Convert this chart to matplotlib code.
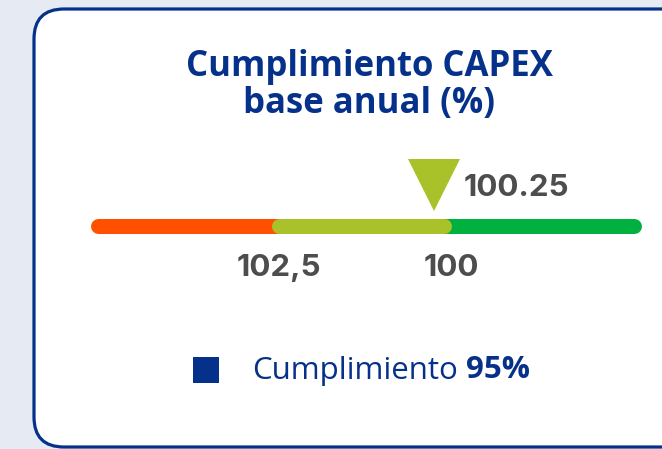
import matplotlib
matplotlib.use("Agg")
import matplotlib.pyplot as plt
from matplotlib.patches import FancyBboxPatch

# datos del indicador
titulo = "Cumplimiento CAPEX\nbase anual (%)"
escala_min = 105.0      # extremo izquierdo (peor)
escala_max = 97.36      # extremo derecho
limite_rojo = 102.5
meta = 100.0
valor = 100.25
etiquetas_ticks = ["102,5", "100"]
ticks = [102.5, 100.0]
leyenda_txt = "Cumplimiento"
leyenda_valor = "95%"

# colores
bg = "#E6EAF3"
azul = "#06318A"
rojo = "#FF5000"
amarillo = "#A9C22A"
verde = "#00B140"
gris = "#4D4D4D"

W, H = 662, 449
fig = plt.figure(figsize=(W / 100, H / 100), dpi=100)
fig.patch.set_facecolor(bg)

# capa de fondo en pixeles (tarjeta)
base = fig.add_axes([0, 0, 1, 1])
base.set_xlim(0, W)
base.set_ylim(H, 0)
base.axis("off")
card = FancyBboxPatch((34, 9), 720, 438, boxstyle="round,pad=0,rounding_size=30",
                      facecolor="white", edgecolor=azul, linewidth=2.3)
base.add_patch(card)

base.text(369, 85.5, titulo, ha="center", va="center", color=azul, fontsize=25,
          fontweight="bold", family="Open Sans", linespacing=1.06)

# leyenda
base.scatter([205.5], [369.5], marker="s", s=(27 * 0.72) ** 2, color=azul, linewidths=0)
t1 = base.text(252, 370.5, leyenda_txt, ha="left", va="center", color=azul,
               fontsize=22.5, family="Open Sans", fontweight="normal")
base.annotate(leyenda_valor, xy=(1, 0), xycoords=t1, xytext=(6, 0), textcoords="offset points",
              ha="left", va="bottom", color=azul, fontsize=22.5, fontweight="bold",
              family="Open Sans")

# gauge: eje x en unidades del indicador (invertido)
x0, x1 = 91, 642
yc = 225.5
ax = fig.add_axes([x0 / W, 1 - (yc + 40) / H, (x1 - x0) / W, 80 / H])
ax.set_xlim(escala_min, escala_max)
ax.set_ylim(-1, 1)
ax.axis("off")

lw_px = 15
cap = (lw_px / 2) * abs(escala_min - escala_max) / (x1 - x0)
lw = lw_px * 0.72
ax.plot([escala_min - cap, 101.0], [0, 0], color=rojo, lw=lw, solid_capstyle="round")
ax.plot([101.0, escala_max + cap], [0, 0], color=verde, lw=lw, solid_capstyle="round")
ax.plot([limite_rojo - cap, meta + cap], [0, 0], color=amarillo, lw=lw, solid_capstyle="round")

# marcador del valor
ax.plot([valor], [1.025], marker="v", markersize=52 * 0.72, color=amarillo,
        markeredgewidth=0, clip_on=False)
ax.text(valor - 0.41, 0.94, f"{valor:.2f}", ha="left", va="center", color=gris,
        fontsize=22.5, fontweight="bold", family="Inter", clip_on=False)

for t, lab in zip(ticks, etiquetas_ticks):
    ax.text(t - (0.1 if t == ticks[0] else 0.0), -1.05, lab, ha="center", va="center",
            color=gris, fontsize=22.5, fontweight="bold", family="Inter", clip_on=False)

fig.savefig("out.png", dpi=100, facecolor=bg)
